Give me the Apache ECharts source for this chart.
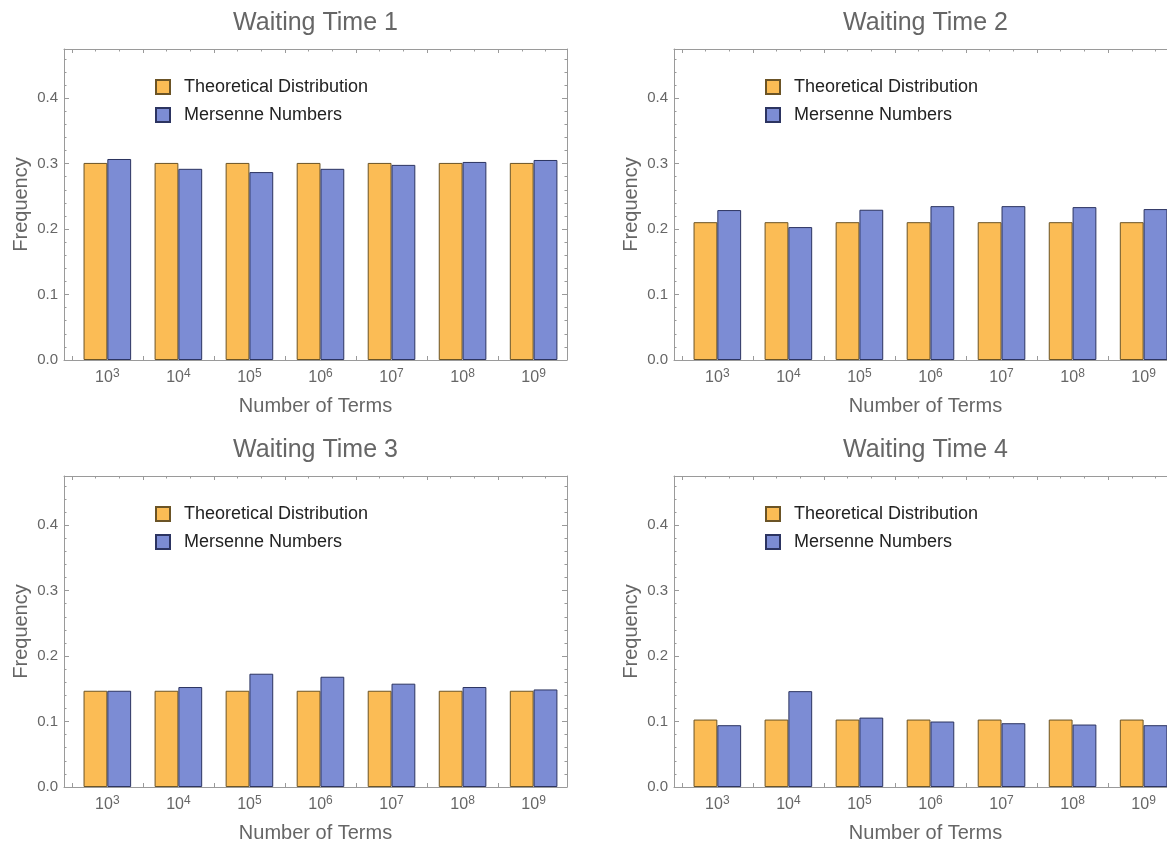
<!DOCTYPE html>
<html><head><meta charset="utf-8">
<script src="https://cdn.jsdelivr.net/npm/echarts@6/dist/echarts.min.js"></script>
<style>html,body{margin:0;padding:0;background:#fff}#c{width:1167px;height:843px}</style>
</head><body><div id="c"></div>
<script>
// ---- data ----
const categories = ['10^3', '10^4', '10^5', '10^6', '10^7', '10^8', '10^9'];
const exponents = ['3', '4', '5', '6', '7', '8', '9'];
const seriesNames = ['Theoretical Distribution', 'Mersenne Numbers'];
const panelTitles = ['Waiting Time 1', 'Waiting Time 2', 'Waiting Time 3', 'Waiting Time 4'];
const yTickValues = [0, 0.1, 0.2, 0.3, 0.4];
const yTickLabels = ['0.0', '0.1', '0.2', '0.3', '0.4'];

const theoretical1 = [0.301, 0.301, 0.301, 0.301, 0.301, 0.301, 0.301];
const mersenne1 = [0.307, 0.292, 0.287, 0.292, 0.298, 0.3025, 0.3055];
const theoretical2 = [0.2105, 0.2105, 0.2105, 0.2105, 0.2105, 0.2105, 0.2105];
const mersenne2 = [0.229, 0.203, 0.2295, 0.235, 0.235, 0.2335, 0.2305];
const theoretical3 = [0.147, 0.147, 0.147, 0.147, 0.147, 0.147, 0.147];
const mersenne3 = [0.147, 0.1527, 0.173, 0.1684, 0.1578, 0.1527, 0.149];
const theoretical4 = [0.103, 0.103, 0.103, 0.103, 0.103, 0.103, 0.103];
const mersenne4 = [0.0944, 0.1464, 0.106, 0.1, 0.0974, 0.0954, 0.0944];

const theoreticalSets = [theoretical1, theoretical2, theoretical3, theoretical4];
const mersenneSets = [mersenne1, mersenne2, mersenne3, mersenne4];

// ---- layout / style ----
const panels = [
  {left: 64, top: 49}, {left: 674, top: 49},
  {left: 64, top: 476}, {left: 674, top: 476}
];
const PW = 503, PH = 311;
const XMIN = -0.61, XMAX = 6.47;
const YMAX = 0.475;
const ORANGE = '#FBBC55', BLUE = '#7C8CD4';
const FRAME = '#9a9a9a', TXT = '#666';
const FONT = '"Liberation Sans", Arial, sans-serif';

// tick positions (axis furniture, not data)
const boundaries = [];
for (let i = -1; i < categories.length - 1; i++) boundaries.push(i + 0.5);
const minorX = [];
for (let b = -1.5; b < XMAX; b += 1) {
  [1/3, 2/3].forEach(f => { const v = b + f; if (v > XMIN && v < XMAX) minorX.push(v); });
}
const minorY = [];
for (let i = 1; i * 0.02 < YMAX; i++) { if (i % 5 !== 0) minorY.push(+(i * 0.02).toFixed(2)); }
const labelPositions = categories.map((c, i) => i);

const option = {
  animation: false,
  textStyle: {fontFamily: FONT},
  title: [], legend: [], grid: [], xAxis: [], yAxis: [], series: []
};

function xFrameAxis(k, pos, ticks, len) {
  return {
    gridIndex: k, type: 'value', position: pos, min: XMIN, max: XMAX,
    axisLine: {show: len > 3, onZero: false, lineStyle: {color: FRAME, width: 1}},
    axisTick: {show: true, inside: true, length: len, customValues: ticks, lineStyle: {color: FRAME}},
    splitLine: {show: false}, axisLabel: {show: false}
  };
}
function yFrameAxis(k, pos, ticks, len) {
  return {
    gridIndex: k, type: 'value', position: pos, min: 0, max: YMAX, interval: 0.1,
    axisLine: {show: len > 3, onZero: false, lineStyle: {color: FRAME, width: 1}},
    axisTick: {show: true, inside: true, length: len, customValues: ticks, lineStyle: {color: FRAME}},
    splitLine: {show: false}, axisLabel: {show: false}
  };
}

panels.forEach((p, k) => {
  option.title.push({
    text: panelTitles[k], left: p.left + PW / 2, top: p.top - 38, textAlign: 'center', padding: 0,
    textStyle: {fontSize: 25, fontWeight: 'normal', color: TXT, fontFamily: FONT}
  });
  option.legend.push({
    data: seriesNames, orient: 'vertical', left: p.left + 86, top: p.top + 24,
    icon: 'rect', itemWidth: 14, itemHeight: 14, itemGap: 10,
    textStyle: {fontSize: 18, color: '#222', lineHeight: 18, padding: [0, 0, 0, 9], fontFamily: FONT}
  });
  option.grid.push({left: p.left, top: p.top, width: PW, height: PH, outerBoundsMode: 'none', containLabel: false});

  const xb = option.xAxis.length;
  option.xAxis.push({
    gridIndex: k, type: 'value', position: 'bottom', min: XMIN, max: XMAX,
    axisLine: {show: true, onZero: false, lineStyle: {color: FRAME, width: 1}},
    axisTick: {show: true, inside: true, length: 4, customValues: boundaries, lineStyle: {color: FRAME}},
    splitLine: {show: false},
    axisLabel: {
      show: true, customValues: labelPositions, margin: 8,
      formatter: v => '{b|10}{s|' + exponents[Math.round(v)] + '}',
      rich: {
        b: {fontSize: 16, color: TXT, lineHeight: 18, verticalAlign: 'bottom', fontFamily: FONT},
        s: {fontSize: 12, color: TXT, lineHeight: 18, verticalAlign: 'top', fontFamily: FONT}
      }
    },
    name: 'Number of Terms', nameLocation: 'middle', nameGap: 36,
    nameTextStyle: {fontSize: 20, color: TXT, fontFamily: FONT}
  });
  option.xAxis.push(xFrameAxis(k, 'bottom', minorX, 2.5));
  option.xAxis.push(xFrameAxis(k, 'top', boundaries, 4));
  option.xAxis.push(xFrameAxis(k, 'top', minorX, 2.5));

  const yl = option.yAxis.length;
  option.yAxis.push({
    gridIndex: k, type: 'value', position: 'left', min: 0, max: YMAX, interval: 0.1,
    axisLine: {show: true, onZero: false, lineStyle: {color: FRAME, width: 1}},
    axisTick: {show: true, inside: true, length: 5, customValues: yTickValues, lineStyle: {color: FRAME}},
    splitLine: {show: false},
    axisLabel: {
      show: true, fontSize: 15, color: TXT, margin: 6, customValues: yTickValues,
      formatter: v => yTickLabels[Math.round(v * 10)] || ''
    },
    name: 'Frequency', nameLocation: 'middle', nameGap: 33,
    nameTextStyle: {fontSize: 20, color: TXT, fontFamily: FONT}
  });
  option.yAxis.push(yFrameAxis(k, 'left', minorY, 2.5));
  option.yAxis.push(yFrameAxis(k, 'right', yTickValues, 5));
  option.yAxis.push(yFrameAxis(k, 'right', minorY, 2.5));

  option.series.push({
    type: 'bar', name: seriesNames[0], xAxisIndex: xb, yAxisIndex: yl,
    data: theoreticalSets[k].map((v, i) => [i, v]),
    barGap: '0%', barCategoryGap: '33%',
    itemStyle: {color: ORANGE, borderColor: '#6b5426', borderWidth: 1}
  });
  option.series.push({
    type: 'bar', name: seriesNames[1], xAxisIndex: xb, yAxisIndex: yl,
    data: mersenneSets[k].map((v, i) => [i, v]),
    barGap: '0%', barCategoryGap: '33%',
    itemStyle: {color: BLUE, borderColor: '#2c3461', borderWidth: 1}
  });
});

const chart = echarts.init(document.getElementById('c'), null, {renderer: 'canvas'});
chart.setOption(option);
</script>
</body></html>
